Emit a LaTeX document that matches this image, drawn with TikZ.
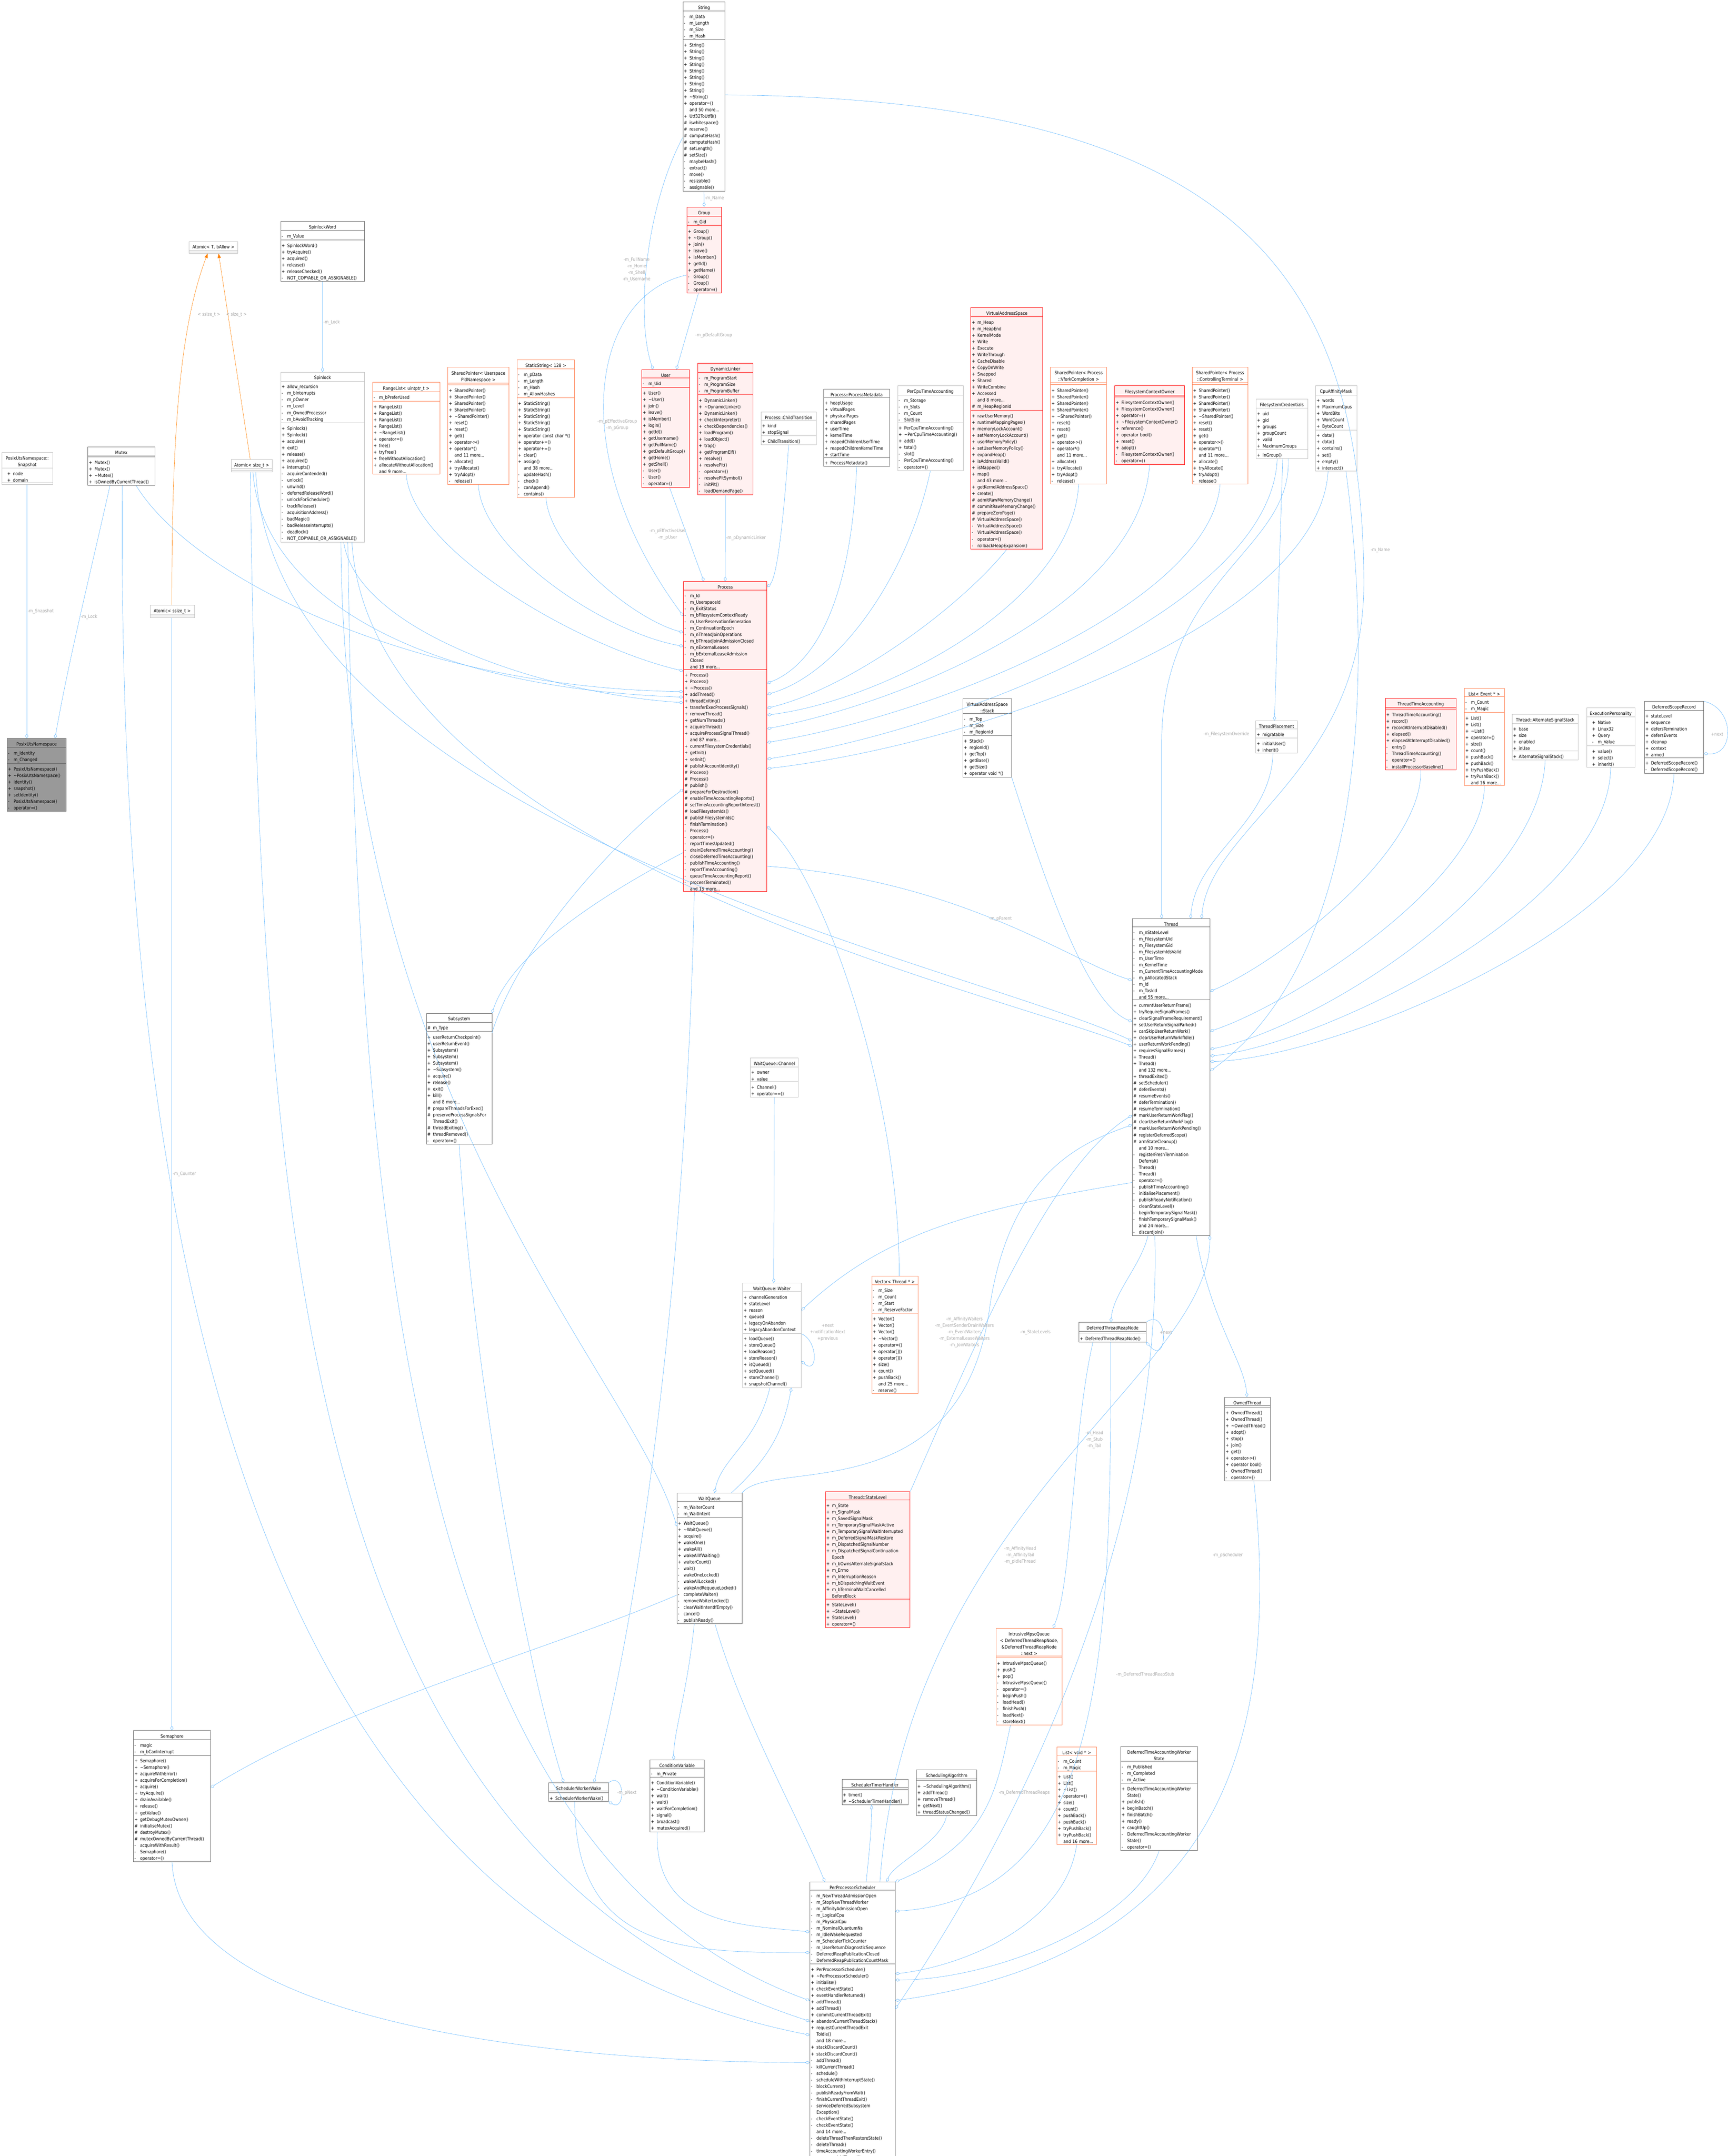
\documentclass[tikz,border=0pt]{standalone}
\usepackage{fontspec}
\setmainfont{DejaVu Sans}[FakeStretch=0.88]
\usetikzlibrary{shapes.multipart,arrows.meta}
\definecolor{eb}{HTML}{63B8FF}
\definecolor{labg}{HTML}{A8A8A8}
\definecolor{redbd}{HTML}{FF0000}
\definecolor{redfill}{HTML}{FFF0F0}
\definecolor{orbd}{HTML}{FF7F50}
\definecolor{darkbd}{HTML}{666666}
\definecolor{lightbd}{HTML}{BFBFBF}
\definecolor{grayfill}{HTML}{999999}
\newcommand\fs{\fontsize{9.4}{13.4}\selectfont}
\newcommand\ml[2]{\par\noindent\makebox[1.25em][l]{#1}#2}
\newcommand\pu[1]{\ml{+}{#1}}
\newcommand\pv[1]{\ml{-}{#1}}
\newcommand\pt[1]{\ml{\#}{#1}}
\newcommand\pn[1]{\ml{}{#1}}
\newcommand\ttl[1]{\par\centering #1\par}
\newcommand\tld{\textasciitilde}
\newcommand\cls[7][]{\node[cls,#1,text width=#4mm] (#2) at (#3) {\ttl{#5}\nodepart{two}#6\nodepart{three}#7};}
\begin{document}
\catcode`\_=12
\begin{tikzpicture}[x=1mm,y=-1mm,
 cls/.style={rectangle split, rectangle split parts=3, draw=darkbd, fill=white, anchor=north west,
   inner xsep=0.7mm, inner ysep=0.5mm, font=\fs, align=left, line width=0.6pt},
 red/.style={draw=redbd, fill=redfill, line width=0.9pt},
 org/.style={draw=orbd, line width=0.9pt},
 lgt/.style={draw=lightbd},
 e/.style={draw=eb, line width=0.6pt, -{Diamond[open,length=3.4mm,width=2.2mm]}},
 inh/.style={draw=orange, line width=0.6pt, -{Triangle[length=3.2mm,width=2.4mm]}},
 inhb/.style={draw=eb, line width=0.6pt, -{Triangle[open,length=3.2mm,width=2.4mm]}},
 lab/.style={text=labg, font=\fs, align=center, inner sep=0.5mm}]
\useasboundingbox (0,0) rectangle (1256.8,1568);
\fill[white] (0,0) rectangle (1256.8,1568);

% ---------- classes ----------
\cls{String}{496.6,1.2}{29.3}{String}{\pv{m_Data}\pv{m_Length}\pv{m_Size}\pv{m_Hash}}
 {\pu{String()}\pu{String()}\pu{String()}\pu{String()}\pu{String()}\pu{String()}\pu{String()}\pu{String()}\pu{\tld String()}\pu{operator=()}\pn{and 50 more...}\pu{Utf32ToUtf8()}\pt{iswhitespace()}\pt{reserve()}\pt{computeHash()}\pt{computeHash()}\pt{setLength()}\pt{setSize()}\pv{maybeHash()}\pv{extract()}\pv{move()}\pv{resizable()}\pv{assignable()}}
\cls[red]{Group}{499.5,150.4}{23.6}{Group}{\pv{m_Gid}}
 {\pu{Group()}\pu{\tld Group()}\pu{join()}\pu{leave()}\pu{isMember()}\pu{getId()}\pu{getName()}\pv{Group()}\pv{Group()}\pv{operator=()}}
\cls[red]{User}{466.7,268.7}{33.3}{User}{\pv{m_Uid}}
 {\pu{User()}\pu{\tld User()}\pu{join()}\pu{leave()}\pu{isMember()}\pu{login()}\pu{getId()}\pu{getUsername()}\pu{getFullName()}\pu{getDefaultGroup()}\pu{getHome()}\pu{getShell()}\pv{User()}\pv{User()}\pv{operator=()}}
\cls[red]{DynamicLinker}{507.4,264}{38.6}{DynamicLinker}{\pv{m_ProgramStart}\pv{m_ProgramSize}\pv{m_ProgramBuffer}}
 {\pu{DynamicLinker()}\pu{\tld DynamicLinker()}\pu{DynamicLinker()}\pu{checkInterpreter()}\pu{checkDependencies()}\pu{loadProgram()}\pu{loadObject()}\pu{trap()}\pu{getProgramElf()}\pu{resolve()}\pu{resolvePlt()}\pv{operator=()}\pv{resolvePltSymbol()}\pv{initPlt()}\pv{loadDemandPage()}}
\cls{SpinlockWord}{204,161}{59.6}{SpinlockWord}{\pv{m_Value}}
 {\pu{SpinlockWord()}\pu{tryAcquire()}\pu{acquired()}\pu{release()}\pu{releaseChecked()}\pv{NOT_COPYABLE_OR_ASSIGNABLE()}}
\cls[lgt]{AtomicT}{137.5,175.5}{34}{Atomic< T, bAllow >}{\mbox{}}{\mbox{}}
\cls[lgt]{Spinlock}{204,270.5}{59.6}{Spinlock}{\pu{allow_recursion}\pv{m_bInterrupts}\pv{m_pOwner}\pv{m_Level}\pv{m_OwnedProcessor}\pv{m_bAvoidTracking}}
 {\pu{Spinlock()}\pu{Spinlock()}\pu{acquire()}\pu{exit()}\pu{release()}\pu{acquired()}\pu{interrupts()}\pv{acquireContended()}\pv{unlock()}\pv{unwind()}\pv{deferredReleaseWord()}\pv{unlockForScheduler()}\pv{trackRelease()}\pv{acquisitionAddress()}\pv{badMagic()}\pv{badReleaseInterrupts()}\pv{deadlock()}\pv{NOT_COPYABLE_OR_ASSIGNABLE()}}
\cls[lgt]{Snapshot}{1.2,329}{35.6}{PosixUtsNamespace::\\Snapshot}{\ml{\quad+}{\quad node}\ml{\quad+}{\quad domain}}{\mbox{}}
\cls{Mutex}{63.8,325}{47.3}{Mutex}{\mbox{}}{\pu{Mutex()}\pu{Mutex()}\pu{\tld Mutex()}\pu{isOwnedByCurrentThread()}}
\cls[lgt]{Asz}{168,334}{28.6}{Atomic< size_t >}{\mbox{}}{\mbox{}}
\cls[lgt]{Assz}{109,440}{31}{Atomic< ssize_t >}{\mbox{}}{\mbox{}}
\cls[fill=grayfill]{PUN}{5,537}{41.6}{PosixUtsNamespace}{\pv{m_Identity}\pv{m_Changed}}
 {\pu{PosixUtsNamespace()}\pu{\tld PosixUtsNamespace()}\pu{identity()}\pu{snapshot()}\pu{setIdentity()}\pv{PosixUtsNamespace()}\pv{operator=()}}
\cls[org]{RangeList}{270.8,278}{47.6}{RangeList< uintptr_t >}{\pv{m_bPreferUsed}}
 {\pu{RangeList()}\pu{RangeList()}\pu{RangeList()}\pu{RangeList()}\pu{\tld RangeList()}\pu{operator=()}\pu{free()}\pu{tryFree()}\pu{freeWithoutAllocation()}\pu{allocateWithoutAllocation()}\pn{and 9 more...}}
\cls[org]{SPU}{325.6,267}{43}{SharedPointer< Userspace\\PidNamespace >}{\mbox{}}
 {\pu{SharedPointer()}\pu{SharedPointer()}\pu{SharedPointer()}\pu{SharedPointer()}\pu{\tld SharedPointer()}\pu{reset()}\pu{reset()}\pu{get()}\pu{operator->()}\pu{operator*()}\pn{and 11 more...}\pu{allocate()}\pu{tryAllocate()}\pu{tryAdopt()}\pv{release()}}
\cls[org]{StaticString}{376,261.5}{40.4}{StaticString< 128 >}{\pv{m_pData}\pv{m_Length}\pv{m_Hash}\pv{m_AllowHashes}}
 {\pu{StaticString()}\pu{StaticString()}\pu{StaticString()}\pu{StaticString()}\pu{StaticString()}\pu{operator const char *()}\pu{operator+=()}\pu{operator+=()}\pu{clear()}\pu{assign()}\pn{and 38 more...}\pv{updateHash()}\pv{check()}\pv{canAppend()}\pv{contains()}}
\cls[lgt]{ChildT}{553.5,299.6}{38.6}{Process::ChildTransition}{\pu{kind}\pu{stopSignal}}{\pu{ChildTransition()}}
\cls{ProcMeta}{599,283}{46.6}{Process::ProcessMetadata}{\pu{heapUsage}\pu{virtualPages}\pu{physicalPages}\pu{sharedPages}\pu{userTime}\pu{kernelTime}\pu{reapedChildrenUserTime}\pu{reapedChildrenKernelTime}\pu{startTime}}{\pu{ProcessMetadata()}}
\cls[lgt]{PerCpu}{652.8,280.5}{46.3}{PerCpuTimeAccounting}{\pv{m_Storage}\pv{m_Slots}\pv{m_Count}\pv{SlotSize}}
 {\pu{PerCpuTimeAccounting()}\pu{\tld PerCpuTimeAccounting()}\pu{add()}\pu{total()}\pv{slot()}\pv{PerCpuTimeAccounting()}\pv{operator=()}}
\cls[red]{VAS}{706,223.5}{51}{VirtualAddressSpace}{\pu{m_Heap}\pu{m_HeapEnd}\pu{KernelMode}\pu{Write}\pu{Execute}\pu{WriteThrough}\pu{CacheDisable}\pu{CopyOnWrite}\pu{Swapped}\pu{Shared}\pu{WriteCombine}\pu{Accessed}\pn{and 8 more...}\pt{m_HeapRegionId}}
 {\pu{rawUserMemory()}\pu{runtimeMappingPages()}\pu{memoryLockAccount()}\pu{setMemoryLockAccount()}\pu{userMemoryPolicy()}\pu{setUserMemoryPolicy()}\pu{expandHeap()}\pu{isAddressValid()}\pu{isMapped()}\pu{map()}\pn{and 43 more...}\pu{getKernelAddressSpace()}\pu{create()}\pt{admitRawMemoryChange()}\pt{commitRawMemoryChange()}\pt{prepareZeroPage()}\pt{VirtualAddressSpace()}\pv{VirtualAddressSpace()}\pv{VirtualAddressSpace()}\pv{operator=()}\pv{rollbackHeapExpansion()}}
\cls[org]{SPV}{764,266.8}{39.4}{SharedPointer< Process\\::VforkCompletion >}{\mbox{}}
 {\pu{SharedPointer()}\pu{SharedPointer()}\pu{SharedPointer()}\pu{SharedPointer()}\pu{\tld SharedPointer()}\pu{reset()}\pu{reset()}\pu{get()}\pu{operator->()}\pu{operator*()}\pn{and 11 more...}\pu{allocate()}\pu{tryAllocate()}\pu{tryAdopt()}\pv{release()}}
\cls[red]{FSCO}{810.7,280.5}{49.2}{FilesystemContextOwner}{\mbox{}}
 {\pu{FilesystemContextOwner()}\pu{FilesystemContextOwner()}\pu{operator=()}\pu{\tld FilesystemContextOwner()}\pu{reference()}\pu{operator bool()}\pu{reset()}\pu{adopt()}\pv{FilesystemContextOwner()}\pv{operator=()}}
\cls[org]{SPCT}{867,266.8}{39.2}{SharedPointer< Process\\::ControllingTerminal >}{\mbox{}}
 {\pu{SharedPointer()}\pu{SharedPointer()}\pu{SharedPointer()}\pu{SharedPointer()}\pu{\tld SharedPointer()}\pu{reset()}\pu{reset()}\pu{get()}\pu{operator->()}\pu{operator*()}\pn{and 11 more...}\pu{allocate()}\pu{tryAllocate()}\pu{tryAdopt()}\pv{release()}}
\cls[lgt]{FSCred}{913.5,290}{36.1}{FilesystemCredentials}{\pu{uid}\pu{gid}\pu{groups}\pu{groupCount}\pu{valid}\pu{MaximumGroups}}{\pu{inGroup()}}
\cls[lgt]{CpuAff}{956.8,280.5}{28.6}{CpuAffinityMask}{\pu{words}\pu{MaximumCpus}\pu{WordBits}\pu{WordCount}\pu{ByteCount}}
 {\pu{data()}\pu{data()}\pu{contains()}\pu{set()}\pu{empty()}\pu{intersect()}}
\cls[red]{Process}{497,422.8}{59.3}{Process}{\pv{m_Id}\pv{m_UserspaceId}\pv{m_ExitStatus}\pv{m_bFilesystemContextReady}\pv{m_UserReservationGeneration}\pv{m_ContinuationEpoch}\pv{m_nThreadJoinOperations}\pv{m_bThreadJoinAdmissionClosed}\pv{m_nExternalLeases}\pv{m_bExternalLeaseAdmission}\pn{Closed}\pn{and 19 more...}}
 {\pu{Process()}\pu{Process()}\pu{\tld Process()}\pu{addThread()}\pu{threadExiting()}\pu{transferExecProcessSignals()}\pu{removeThread()}\pu{getNumThreads()}\pu{acquireThread()}\pu{acquireProcessSignalThread()}\pn{and 87 more...}\pu{currentFilesystemCredentials()}\pu{getInit()}\pu{setInit()}\pt{publishAccountIdentity()}\pt{Process()}\pt{Process()}\pt{publish()}\pt{prepareForDestruction()}\pt{enableTimeAccountingReports()}\pt{setTimeAccountingReportInterest()}\pt{loadFilesystemIds()}\pt{publishFilesystemIds()}\pv{finishTermination()}\pv{Process()}\pv{operator=()}\pv{reportTimesUpdated()}\pv{drainDeferredTimeAccounting()}\pv{closeDeferredTimeAccounting()}\pv{publishTimeAccounting()}\pv{reportTimeAccounting()}\pv{queueTimeAccountingReport()}\pv{processTerminated()}\pn{and 15 more...}}
\cls{VASStack}{700.3,508}{33.9}{VirtualAddressSpace\\::Stack}{\pv{m_Top}\pv{m_Size}\pv{m_RegionId}}
 {\pu{Stack()}\pu{regionId()}\pu{getTop()}\pu{getBase()}\pu{getSize()}\pu{operator void *()}}
\cls[lgt]{TPlace}{913.3,524}{28.8}{ThreadPlacement}{\pu{migratable}}{\pu{initialUser()}\pu{inherit()}}
\cls[red]{TTA}{1007.5,507.6}{50.1}{ThreadTimeAccounting}{\mbox{}}
 {\pu{ThreadTimeAccounting()}\pu{record()}\pu{recordAtInterruptDisabled()}\pu{elapsed()}\pu{elapsedAtInterruptDisabled()}\pv{entry()}\pv{ThreadTimeAccounting()}\pv{operator=()}\pv{installProcessorBaseline()}}
\cls[org]{ListEvent}{1065,500.4}{27.6}{List< Event * >}{\pv{m_Count}\pv{m_Magic}}
 {\pu{List()}\pu{List()}\pu{\tld List()}\pu{operator=()}\pu{size()}\pu{count()}\pu{pushBack()}\pu{pushBack()}\pu{tryPushBack()}\pu{tryPushBack()}\pn{and 16 more...}}
\cls[lgt]{AltSig}{1099.8,519.4}{46.6}{Thread::AlternateSignalStack}{\pu{base}\pu{size}\pu{enabled}\pu{inUse}}{\pu{AlternateSignalStack()}}
\cls[lgt]{ExecP}{1154,514.7}{33.6}{ExecutionPersonality}{\ml{\quad+}{\quad Native}\ml{\quad+}{\quad Linux32}\ml{\quad+}{\quad Query}\ml{\quad-}{\quad m_Value}}
 {\ml{\quad+}{\quad value()}\ml{\quad+}{\quad select()}\ml{\quad+}{\quad inherit()}}
\cls{DSR}{1196,510}{41.6}{DeferredScopeRecord}{\pu{stateLevel}\pu{sequence}\pu{defersTermination}\pu{defersEvents}\pu{cleanup}\pu{context}\pu{armed}}
 {\pu{DeferredScopeRecord()}\pv{DeferredScopeRecord()}}
\cls{Thread}{823.5,668}{55.1}{Thread}{\pv{m_nStateLevel}\pv{m_FilesystemUid}\pv{m_FilesystemGid}\pv{m_FilesystemIdsValid}\pv{m_UserTime}\pv{m_KernelTime}\pv{m_CurrentTimeAccountingMode}\pv{m_pAllocatedStack}\pv{m_Id}\pv{m_TaskId}\pn{and 55 more...}}
 {\pu{currentUserReturnFrame()}\pu{tryRequireSignalFrames()}\pu{clearSignalFrameRequirement()}\pu{setUserReturnSignalParked()}\pu{canSkipUserReturnWork()}\pu{clearUserReturnWorkIfIdle()}\pu{userReturnWorkPending()}\pu{requiresSignalFrames()}\pu{Thread()}\pu{Thread()}\pn{and 132 more...}\pu{threadExited()}\pt{setScheduler()}\pt{deferEvents()}\pt{resumeEvents()}\pt{deferTermination()}\pt{resumeTermination()}\pt{markUserReturnWorkFlag()}\pt{clearUserReturnWorkFlag()}\pt{markUserReturnWorkPending()}\pt{registerDeferredScope()}\pt{armStateCleanup()}\pn{and 10 more...}\pv{registerFreshTermination}\pn{Deferral()}\pv{Thread()}\pv{Thread()}\pv{operator=()}\pv{publishTimeAccounting()}\pv{initialisePlacement()}\pv{publishReadyNotification()}\pv{cleanStateLevel()}\pv{beginTemporarySignalMask()}\pv{finishTemporarySignalMask()}\pn{and 24 more...}\pv{discardJoin()}}
\cls{Subsystem}{310,736.8}{46.3}{Subsystem}{\pt{m_Type}}
 {\pu{userReturnCheckpoint()}\pu{userReturnEvent()}\pu{Subsystem()}\pu{Subsystem()}\pu{Subsystem()}\pu{\tld Subsystem()}\pu{acquire()}\pu{release()}\pu{exit()}\pu{kill()}\pn{and 8 more...}\pt{prepareThreadsForExec()}\pt{preserveProcessSignalsFor}\pn{ThreadExit()}\pt{threadExiting()}\pt{threadRemoved()}\pv{operator=()}}
\cls[lgt]{Channel}{545.6,769.4}{33.6}{WaitQueue::Channel}{\pu{owner}\pu{value}}{\pu{Channel()}\pu{operator==()}}
\cls[lgt]{Waiter}{540,933}{41.3}{WaitQueue::Waiter}{\pu{channelGeneration}\pu{stateLevel}\pu{reason}\pu{queued}\pu{legacyOnAbandon}\pu{legacyAbandonContext}}
 {\pu{loadQueue()}\pu{storeQueue()}\pu{loadReason()}\pu{storeReason()}\pu{isQueued()}\pu{setQueued()}\pu{storeChannel()}\pu{snapshotChannel()}}
\cls[org]{Vector}{634,928}{32.1}{Vector< Thread * >}{\pv{m_Size}\pv{m_Count}\pv{m_Start}\pv{m_ReserveFactor}}
 {\pu{Vector()}\pu{Vector()}\pu{Vector()}\pu{\tld Vector()}\pu{operator=()}\pu{operator[]()}\pu{operator[]()}\pu{size()}\pu{count()}\pu{pushBack()}\pn{and 25 more...}\pv{reserve()}}
\cls{DTRN}{784.6,961.5}{47.6}{DeferredThreadReapNode}{\mbox{}}{\pu{DeferredThreadReapNode()}}
\cls{Owned}{890.6,1016}{31.8}{OwnedThread}{\mbox{}}
 {\pu{OwnedThread()}\pu{OwnedThread()}\pu{\tld OwnedThread()}\pu{adopt()}\pu{stop()}\pu{join()}\pu{get()}\pu{operator->()}\pu{operator bool()}\pv{OwnedThread()}\pv{operator=()}}
\cls{WQ}{492.3,1085.7}{45.9}{WaitQueue}{\pv{m_WaiterCount}\pv{m_WaitIntent}}
 {\pu{WaitQueue()}\pu{\tld WaitQueue()}\pu{acquire()}\pu{wakeOne()}\pu{wakeAll()}\pu{wakeAllIfWaiting()}\pu{waiterCount()}\pv{wait()}\pv{wakeOneLocked()}\pv{wakeAllLocked()}\pv{wakeAndRequeueLocked()}\pv{completeWaiter()}\pv{removeWaiterLocked()}\pv{clearWaitIntentIfEmpty()}\pv{cancel()}\pv{publishReady()}}
\cls[red]{SL}{600.2,1084.6}{60.2}{Thread::StateLevel}{\pu{m_State}\pu{m_SignalMask}\pu{m_SavedSignalMask}\pu{m_TemporarySignalMaskActive}\pu{m_TemporarySignalWaitInterrupted}\pu{m_DeferredSignalMaskRestore}\pu{m_DispatchedSignalNumber}\pu{m_DispatchedSignalContinuation}\pn{Epoch}\pu{m_bOwnsAlternateSignalStack}\pu{m_Errno}\pu{m_InterruptionReason}\pu{m_bDispatchingWaitEvent}\pu{m_bTerminalWaitCancelled}\pn{BeforeBlock}}
 {\pu{StateLevel()}\pu{\tld StateLevel()}\pu{StateLevel()}\pu{operator=()}}
\cls[org]{IMQ}{724.4,1184}{46.6}{IntrusiveMpscQueue\\< DeferredThreadReapNode,\\\&DeferredThreadReapNode\\::next >}{\mbox{}}
 {\pu{IntrusiveMpscQueue()}\pu{push()}\pu{pop()}\pv{IntrusiveMpscQueue()}\pv{operator=()}\pv{beginPush()}\pv{loadHead()}\pv{finishPush()}\pv{loadNext()}\pv{storeNext()}}
\cls{Sem}{97,1258.5}{54.6}{Semaphore}{\pv{magic}\pv{m_bCanInterrupt}}
 {\pu{Semaphore()}\pu{\tld Semaphore()}\pu{acquireWithError()}\pu{acquireForCompletion()}\pu{acquire()}\pu{tryAcquire()}\pu{drainAvailable()}\pu{release()}\pu{getValue()}\pu{getDebugMutexOwner()}\pt{initialiseMutex()}\pt{destroyMutex()}\pt{mutexOwnedByCurrentThread()}\pv{acquireWithResult()}\pv{Semaphore()}\pv{operator=()}}
\cls{SWW}{399,1296.4}{42.1}{SchedulerWorkerWake}{\mbox{}}{\pu{SchedulerWorkerWake()}}
\cls{CV}{472.7,1279.8}{37.9}{ConditionVariable}{\pv{m_Private}}
 {\pu{ConditionVariable()}\pu{\tld ConditionVariable()}\pu{wait()}\pu{wait()}\pu{waitForCompletion()}\pu{signal()}\pu{broadcast()}\pu{mutexAcquired()}}
\cls{STH}{612.3,1294}{46.6}{SchedulerTimerHandler}{\mbox{}}{\pu{timer()}\pt{\tld SchedulerTimerHandler()}}
\cls{SA}{666.5,1287}{42.3}{SchedulingAlgorithm}{\mbox{}}
 {\pu{\tld SchedulingAlgorithm()}\pu{addThread()}\pu{removeThread()}\pu{getNext()}\pu{threadStatusChanged()}}
\cls[org]{ListVoid}{768.5,1270.4}{27.6}{List< void * >}{\pv{m_Count}\pv{m_Magic}}
 {\pu{List()}\pu{List()}\pu{\tld List()}\pu{operator=()}\pu{size()}\pu{count()}\pu{pushBack()}\pu{pushBack()}\pu{tryPushBack()}\pu{tryPushBack()}\pn{and 16 more...}}
\cls{DTAWS}{815,1270}{54.6}{DeferredTimeAccountingWorker\\State}{\pv{m_Published}\pv{m_Completed}\pv{m_Active}}
 {\pu{DeferredTimeAccountingWorker}\pn{State()}\pu{publish()}\pu{beginBatch()}\pu{finishBatch()}\pu{ready()}\pu{caughtUp()}\pv{DeferredTimeAccountingWorker}\pn{State()}\pv{operator=()}}
\cls{PPS}{589,1368.6}{60.6}{PerProcessorScheduler}{\pv{m_NewThreadAdmissionOpen}\pv{m_StopNewThreadWorker}\pv{m_AffinityAdmissionOpen}\pv{m_LogicalCpu}\pv{m_PhysicalCpu}\pv{m_NominalQuantumNs}\pv{m_IdleWakeRequested}\pv{m_SchedulerTickCounter}\pv{m_UserReturnDiagnosticSequence}\pv{DeferredReapPublicationClosed}\pv{DeferredReapPublicationCountMask}}
 {\pu{PerProcessorScheduler()}\pu{\tld PerProcessorScheduler()}\pu{initialise()}\pu{checkEventState()}\pu{eventHandlerReturned()}\pu{addThread()}\pu{addThread()}\pu{commitCurrentThreadExit()}\pu{abandonCurrentThreadStack()}\pu{requestCurrentThreadExit}\pn{ToIdle()}\pn{and 18 more...}\pu{stackDiscardCount()}\pu{stackDiscardCount()}\pv{addThread()}\pv{killCurrentThread()}\pv{schedule()}\pv{scheduleWithInterruptState()}\pv{blockCurrent()}\pv{publishReadyFromWait()}\pv{finishCurrentThreadExit()}\pv{serviceDeferredSubsystem}\pn{Exception()}\pv{checkEventState()}\pv{checkEventState()}\pn{and 14 more...}\pv{deleteThreadThenRestoreState()}\pv{deleteThread()}\pv{timeAccountingWorkerEntry()}\pv{processorAddThread()}}

% ---------- connectors ----------
% top
\draw[e] (String.south) -- (Group.north) node[lab,pos=.45,right] {-m_Name};
\draw[e] (String.west |- 0,100) .. controls (470,150) and (462,230) .. (User.north -| 475,0);
\node[lab] (lUser) at (463,196) {-m_FullName\\-m_Home\\-m_Shell\\-m_Username};
\draw[e] (Group.south -| 508,0) -- (User.north -| 492,0) node[lab,pos=.55,right=6mm] {-m_pDefaultGroup};
\draw[e] (Group.west |- 0,200) .. controls (430,215) and (410,330) .. (Process.west |- 0,448);
\node[lab] (lGrp) at (449,309) {-m_pEffectiveGroup\\-m_pGroup};
\draw[e] (User.south -| 487,0) -- (Process.north -| 512,0) node[lab,pos=.5,left] {-m_pEffectiveUser\\-m_pUser};
\draw[e] (DynamicLinker.south) -- (Process.north -| 527.5,0) node[lab,pos=.5,right] {-m_pDynamicLinker};
\draw[e] (String.east |- 0,69) .. controls (900,72) and (990,200) .. (992,420) .. controls (994,560) and (880,600) .. (Thread.north -| 874,0);
\node[lab] (lSName) at (1004,400) {-m_Name};
\draw[e] (SpinlockWord.south) -- (Spinlock.north) node[lab,pos=.45,right] {-m_Lock};
\draw[inh] (Assz.north -| 125,0) .. controls (125,320) and (130,240) .. (AtomicT.south -| 151,0);
\draw[inh] (Asz.north -| 182,0) -- (AtomicT.south -| 159,0);
\node[lab] (lss) at (152,229) {< ssize_t >};
\node[lab] (ls) at (172,229) {< size_t >};
\draw[e] (Snapshot.south -| 19.5,0) -- (PUN.north -| 19.5,0) node[lab,pos=.5,right] {-m_Snapshot};
\draw[e] (Mutex.south -| 80,0) .. controls (65,420) and (50,480) .. (PUN.north -| 40,0) node[lab,pos=.5,right] {-m_Lock};
\draw[e] (Assz.south -| 125,0) -- (Sem.north -| 125,0) node[lab,pos=.5,right] {-m_Counter};
% into Process
\draw[e] (Mutex.south -| 99,0) .. controls (140,420) and (300,500) .. (Process.west |- 0,503);
\draw[e] (Asz.south -| 184,0) .. controls (190,430) and (300,500) .. (Process.west |- 0,507);
\draw[e] (Spinlock.south -| 250,0) .. controls (260,460) and (400,505) .. (Process.west |- 0,511);
\draw[e] (RangeList.south) .. controls (300,400) and (420,470) .. (Process.west |- 0,488);
\draw[e] (SPU.south) .. controls (350,400) and (440,460) .. (Process.west |- 0,470);
\draw[e] (StaticString.south) .. controls (400,400) and (460,450) .. (Process.west |- 0,460);
\draw[e] (ChildT.south) .. controls (570,380) and (565,420) .. (Process.east |- 0,427);
\draw[e] (ProcMeta.south) .. controls (620,420) and (600,480) .. (Process.east |- 0,497);
\draw[e] (PerCpu.south) .. controls (660,420) and (610,490) .. (Process.east |- 0,505);
\draw[e] (VAS.south) .. controls (700,440) and (620,500) .. (Process.east |- 0,515);
\draw[e] (SPV.south) .. controls (780,440) and (640,510) .. (Process.east |- 0,520);
\draw[e] (FSCO.south) .. controls (830,440) and (660,510) .. (Process.east |- 0,530);
\draw[e] (SPCT.south) .. controls (880,440) and (680,520) .. (Process.east |- 0,540);
\draw[e] (FSCred.south -| 929,0) .. controls (925,440) and (700,530) .. (Process.east |- 0,552);
\draw[e] (CpuAff.south -| 966,0) .. controls (960,450) and (720,540) .. (Process.east |- 0,559);
\draw[e] (Vector.north -| 654,0) .. controls (655,800) and (600,640) .. (Process.east |- 0,601);
\draw[e] (Subsystem.east |- 0,751) .. controls (380,680) and (460,600) .. (Process.west |- 0,574);
\draw[e] (Process.west |- 0,620) .. controls (420,660) and (370,700) .. (Subsystem.north east);
% into Thread
\draw[e] (Process.east |- 0,630) .. controls (700,640) and (780,700) .. (Thread.west |- 0,713) node[lab,pos=.5,above] {-m_pParent};
\draw[e] (VASStack.south east) .. controls (760,640) and (790,730) .. (Thread.west |- 0,743);
\draw[e] (FSCred.south -| 937,0) .. controls (940,400) and (845,420) .. (845,540) -- (Thread.north -| 845,0);
\node[lab] (lFSO) at (892,534) {-m_FilesystemOverride};
\draw[e] (FSCred.south -| 933,0) -- (TPlace.north -| 927,0);
\draw[e] (TPlace.south -| 926,0) .. controls (924,600) and (870,620) .. (Thread.north -| 866,0);
\draw[e] (TTA.south) .. controls (1035,620) and (930,700) .. (Thread.east |- 0,721);
\draw[e] (ListEvent.south) .. controls (1080,640) and (940,730) .. (Thread.east |- 0,750);
\draw[e] (AltSig.south) .. controls (1120,650) and (950,750) .. (Thread.east |- 0,763);
\draw[e] (ExecP.south) .. controls (1170,660) and (960,760) .. (Thread.east |- 0,768);
\draw[e] (DSR.south) .. controls (1215,670) and (970,770) .. (Thread.east |- 0,772);
\draw[e] (CpuAff.south -| 979,0) .. controls (1000,500) and (990,700) .. (Thread.east |- 0,779);
\draw[e] (DSR.north east) .. controls (1262,515) and (1262,550) .. (DSR.east |- 0,548);
\node[lab] (lDSR) at (1249,534) {+next};
\draw[e] (Asz.south -| 186,0) .. controls (200,600) and (700,700) .. (Thread.west |- 0,757);
\draw[e] (Spinlock.south -| 256,0) .. controls (270,620) and (720,720) .. (Thread.west |- 0,761);
\draw[e] (SL.north east) .. controls (700,1000) and (760,850) .. (Thread.west |- 0,811);
\node[lab] (lSL) at (753,969) {-m_StateLevels};
\draw[e] (WQ.north east) .. controls (560,1060) and (700,1100) .. (720,950) .. controls (735,850) and (790,830) .. (Thread.west |- 0,818);
\node[lab] (lWQ) at (701.5,969) {-m_AffinityWaiters\\-m_EventSenderDrainWaiters\\-m_EventWaiters\\-m_ExternalLeaseWaiters\\-m_JoinWaiters};
\draw[e] (Thread.south -| 835,0) .. controls (830,920) and (810,940) .. (DTRN.north -| 808,0);
\draw[e] (Thread.south -| 870,0) .. controls (880,960) and (905,990) .. (Owned.north -| 907,0);
\draw[e] (Thread.west |- 0,860) .. controls (700,880) and (640,900) .. (Waiter.east |- 0,953);
% waiters
\draw[e] (Channel.south) -- (Waiter.north -| 562.8,0);
\draw[e] (Waiter.east |- 0,970) .. controls (595,975) and (595,1000) .. (Waiter.east |- 0,990);
\node[lab] (lW) at (602,969) {+next\\+notificationNext\\+previous};
\draw[e] (Waiter.south -| 560,0) .. controls (550,1050) and (525,1060) .. (WQ.north -| 519.7,0);
\draw[e] (WQ.north -| 532,0) .. controls (560,1060) and (570,1040) .. (Waiter.south -| 575.6,0);
\draw[e] (DTRN.north east) .. controls (850,950) and (850,995) .. (DTRN.south east);
\node[lab] (lD) at (848,969) {+next};
\draw[e] (DTRN.south -| 795,0) .. controls (780,1040) and (780,1150) .. (IMQ.north -| 766,0);
\node[lab] (lH) at (796,1047) {-m_Head\\-m_Stub\\-m_Tail};
% scheduler area
\draw[e] (WQ.west |- 0,1160) .. controls (400,1200) and (250,1240) .. (Sem.east |- 0,1300);
\draw[e] (WQ.south -| 505,0) .. controls (500,1230) and (490,1260) .. (CV.north -| 490,0);
\draw[e] (Subsystem.south) .. controls (345,1000) and (380,1200) .. (SWW.north -| 410,0);
\draw[e] (Process.south -| 505,0) .. controls (500,900) and (470,1150) .. (SWW.north -| 432,0);
\draw[e] (SWW.north east) .. controls (455,1288) and (455,1318) .. (SWW.south east);
\node[lab] (lN) at (456,1304) {-m_pNext};
\draw[inhb] (PPS.north -| 630,0) .. controls (632,1350) and (634,1330) .. (STH.south -| 634,0);
\draw[e] (SA.south) .. controls (685,1340) and (650,1355) .. (PPS.north -| 645,0);
\draw[e] (IMQ.south -| 735,0) .. controls (725,1300) and (720,1340) .. (PPS.north east);
\node[lab] (lDR) at (745,1304) {-m_DeferredThreadReaps};
\draw[e] (DTRN.south -| 808,0) .. controls (808,1200) and (805,1380) .. (PPS.east |- 0,1390);
\node[lab] (lDRS) at (833,1218) {-m_DeferredThreadReapStub};
\draw[e] (ListVoid.south) .. controls (775,1400) and (700,1430) .. (PPS.east |- 0,1435.5);
\draw[e] (DTAWS.south) .. controls (825,1400) and (720,1440) .. (PPS.east |- 0,1440);
\draw[e] (Owned.south -| 912,0) .. controls (930,1250) and (900,1420) .. (PPS.east |- 0,1455);
\draw[e] (Thread.south -| 840,0) .. controls (845,1100) and (760,1300) .. (PPS.east |- 0,1461);
\node[lab] (lAH) at (742,1131) {-m_AffinityHead\\-m_AffinityTail\\-m_pIdleThread};
\draw[e] (PPS.north -| 640,0) .. controls (660,1100) and (880,1000) .. (Thread.south -| 880,0);
\node[lab] (lPS) at (893,1131) {-m_pScheduler};
\draw[e] (WQ.south -| 520,0) .. controls (540,1250) and (580,1320) .. (PPS.north -| 600,0);
\draw[e] (SWW.south -| 418,0) .. controls (418,1420) and (500,1420) .. (PPS.west |- 0,1420);
\draw[e] (CV.south -| 478,0) .. controls (476,1400) and (540,1400) .. (PPS.west |- 0,1405);
\draw[e] (Sem.south) .. controls (130,1470) and (400,1500) .. (PPS.west |- 0,1500);
\draw[e] (Mutex.south -| 89,0) .. controls (85,900) and (180,1400) .. (PPS.west |- 0,1480);
\draw[e] (Asz.south -| 182,0) .. controls (190,900) and (220,1350) .. (PPS.west |- 0,1470);
\draw[e] (Spinlock.south -| 253,0) .. controls (260,900) and (300,1350) .. (PPS.west |- 0,1455);
\draw[e] (Spinlock.south -| 248,0) .. controls (250,800) and (460,1000) .. (WQ.west |- 0,1110);
\end{tikzpicture}
\end{document}
